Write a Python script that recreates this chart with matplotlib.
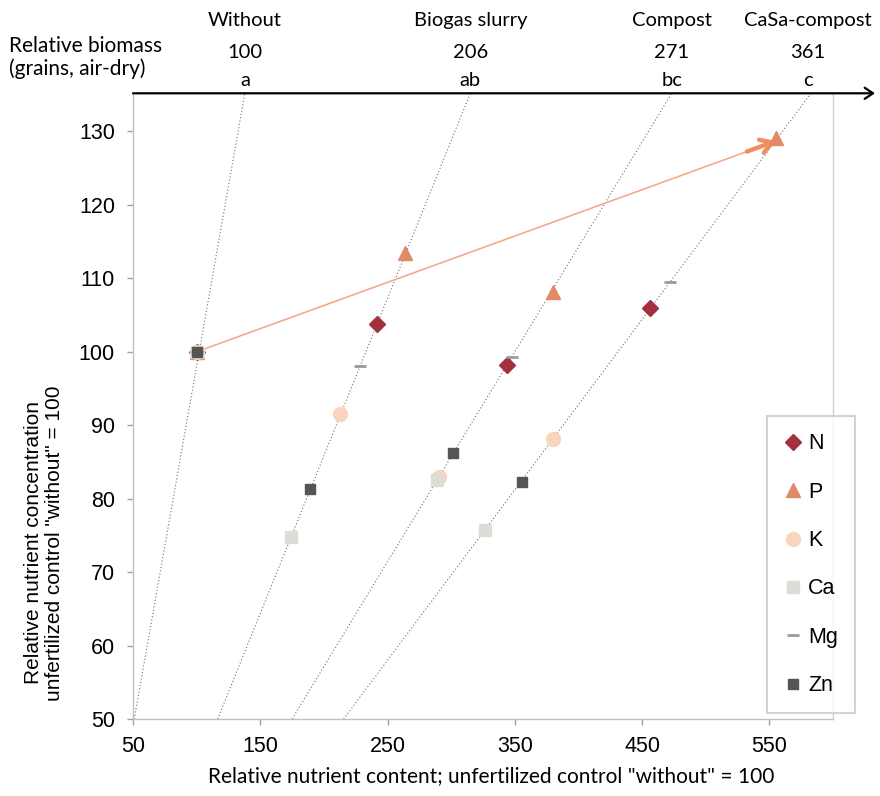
import matplotlib.pyplot as plt
import numpy as np
from matplotlib.transforms import blended_transform_factory

# treatments (top labels) and isoline slopes (content / concentration)
treatments = ["Without", "Biogas slurry", "Compost", "CaSa-compost"]
biomass = ["100", "206", "271", "361"]
letters = ["a", "ab", "bc", "c"]
slopes = [1.02, 2.33, 3.5, 4.31]

# relative nutrient content (x) and concentration (y) per nutrient
# order: Without, Biogas slurry, Compost, CaSa-compost
N_x = [100, 241.4, 344.0, 456.1]
N_y = [100, 103.8, 98.2, 105.9]
P_x = [100, 263.7, 379.7, 555.1]
P_y = [100, 113.5, 108.2, 129.1]
K_x = [100, 212.9, 290.6, 380.2]
K_y = [100, 91.6, 82.9, 88.1]
Ca_x = [100, 174.1, 288.5, 326.5]
Ca_y = [100, 74.8, 82.5, 75.8]
Mg_x = [100, 228.3, 347.5, 471.8]
Mg_y = [100, 98.0, 99.3, 109.5]
Zn_x = [100, 189.3, 301.6, 355.3]
Zn_y = [100, 81.3, 86.2, 82.3]

x_ticks = [50, 150, 250, 350, 450, 550]
y_ticks = [50, 60, 70, 80, 90, 100, 110, 120, 130]
xmin, xmax = 50, 600
ymin, ymax = 50, 135.2

plt.rcParams["font.family"] = ["Liberation Sans", "DejaVu Sans"]
label_font = ["Lato", "DejaVu Sans"]

fig = plt.figure(figsize=(8.8, 7.96), dpi=100)
ax = fig.add_axes([0.1511, 0.0967, 0.7955, 0.7861])
ax.set_xlim(xmin, xmax)
ax.set_ylim(ymin, ymax)

# dotted isolines
for k in slopes:
    y0 = max(ymin, xmin / k)
    yy = np.array([y0, ymax])
    ax.plot(k * yy, yy, ls=(0, (1, 2)), color="#707070", lw=0.8, zorder=1)

# arrow from "without" to CaSa-compost (P)
start = (P_x[0], P_y[0])
end = (P_x[3], P_y[3] - 0.4)
ax.plot([start[0], end[0]], [start[1], end[1]], color="#F4A582", lw=1.1, zorder=2)
back = (end[0] - 0.05 * (end[0] - start[0]), end[1] - 0.05 * (end[1] - start[1]))
ax.annotate("", xy=end, xytext=back,
            arrowprops=dict(arrowstyle="->,head_length=0.8,head_width=0.5",
                            color="#EE8F62", lw=3.2, shrinkA=0, shrinkB=0), zorder=2)

ax.plot(N_x, N_y, "D", color="#A3303F", ms=8, ls="none", label="N", zorder=3)
ax.plot(P_x, P_y, "^", color="#E08A68", ms=10, ls="none", label="P", zorder=3)
ax.plot(K_x, K_y, "o", color="#FAD4BC", ms=10, ls="none", label="K", zorder=3)
ax.plot(Ca_x, Ca_y, "s", color="#DDDDD8", ms=8, ls="none", label="Ca", zorder=3)
ax.plot(Mg_x, Mg_y, "_", color="#9A9A9A", ms=8, mew=2, ls="none", label="Mg", zorder=3)
ax.plot(Zn_x, Zn_y, "s", color="#555555", ms=7, ls="none", label="Zn", zorder=3)

ax.set_xticks(x_ticks)
ax.set_yticks(y_ticks)
ax.tick_params(labelsize=15.5, color="#A0A0A0", length=4, width=1)
ax.tick_params(axis="x", pad=8)
ax.tick_params(axis="y", pad=9)
for side in ["left", "bottom", "right"]:
    ax.spines[side].set_color("#C0C0C0")
    ax.spines[side].set_linewidth(1)
ax.spines["right"].set_color("#D0D0D0")
ax.spines["top"].set_visible(False)

# top axis drawn as black arrow
ax.annotate("", xy=(1.06, 1), xytext=(0, 1), xycoords="axes fraction",
            arrowprops=dict(arrowstyle="->,head_length=0.6,head_width=0.4",
                            color="black", lw=1.6, shrinkA=0, shrinkB=0),
            annotation_clip=False)

fig.text(491 / 880, 1 - 776 / 796,
         'Relative nutrient content; unfertilized control "without" = 100',
         ha="center", va="center", family=label_font, fontsize=15)
fig.text(44 / 880, 1 - 543 / 796,
         'Relative nutrient concentration\nunfertilized control "without" = 100',
         ha="center", va="center", rotation=90, fontsize=15, linespacing=1.1)

tr = blended_transform_factory(ax.transData, fig.transFigure)
for k, name, bm, let in zip(slopes, treatments, biomass, letters):
    xt = min(k * ymax, 580)
    ax.text(xt, 0.974, name, transform=tr, ha="center", va="center",
            family=label_font, fontsize=14.5)
    ax.text(xt, 0.934, bm, transform=tr, ha="center", va="center",
            family=label_font, fontsize=14.5)
    ax.text(xt, 0.899, let, transform=tr, ha="center", va="center",
            family=label_font, fontsize=14.5)
fig.text(0.010, 0.928, "Relative biomass\n(grains, air-dry)", ha="left", va="center",
         family=label_font, fontsize=15, linespacing=1.15)

leg = ax.legend(loc="upper left", bbox_to_anchor=(0.906, 0.484), fontsize=15.5,
                frameon=True, fancybox=False, labelspacing=1.27, handlelength=0.8,
                handletextpad=0.3, borderpad=0.8, borderaxespad=0, numpoints=1)
leg.get_frame().set_edgecolor("#C8C8C8")
leg.get_frame().set_linewidth(1.5)

fig.savefig("out.png", dpi=100)
